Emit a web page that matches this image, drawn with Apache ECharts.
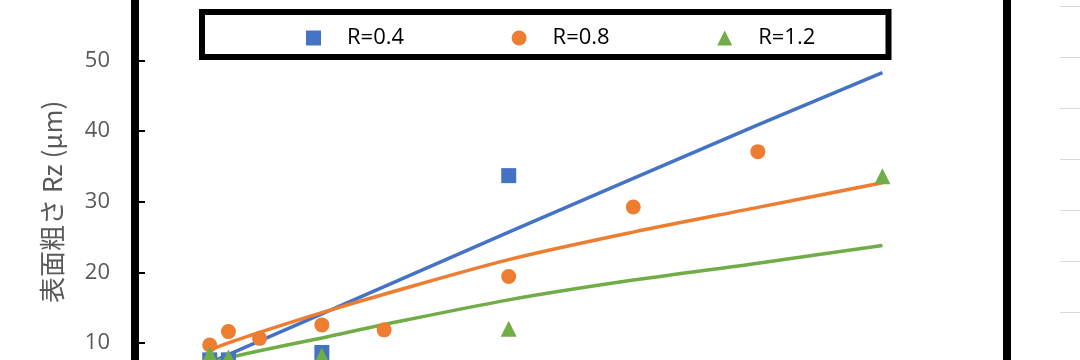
<!DOCTYPE html>
<html>
<head>
<meta charset="utf-8">
<script src="https://cdn.jsdelivr.net/npm/echarts@6/dist/echarts.min.js"></script>
<style>
html,body{margin:0;padding:0;background:#fff;}
#chart{width:1080px;height:360px;}
</style>
</head>
<body>
<div id="chart"></div>
<script>
// ---- data ----
const seriesNames = ['R=0.4', 'R=0.8', 'R=1.2'];
const blueX = [6, 7.5, 15, 30];
const blueY = [7.6, 7.6, 8.65, 33.7];
const orangeX = [6, 7.5, 10, 15, 20, 30, 40, 50];
const orangeY = [9.7, 11.6, 10.65, 12.55, 11.85, 19.4, 29.25, 37.1];
const greenX = [6, 7.5, 15, 30, 60];
const greenY = [8.4, 7.95, 8.2, 12.0, 33.6];
// trend lines
const blueTrendX = [6, 15, 30, 40, 50, 60];
const blueTrendY = [7.2, 14.1, 25.7, 33.3, 40.9, 48.3];
const orangeTrendX = [6, 7.5, 10, 15, 20, 30, 40, 50, 60];
const orangeTrendY = [9.0, 10.0, 11.5, 14.3, 16.9, 21.8, 25.7, 29.2, 32.7];
const greenTrendX = [6, 7.5, 10, 15, 20, 30, 40, 50, 60];
const greenTrendY = [7.2, 7.9, 8.9, 10.7, 12.6, 16.1, 18.9, 21.3, 23.8];
const yTicks = [0, 10, 20, 30, 40, 50, 60];

const zip = (xs, ys) => xs.map((x, i) => [x, ys[i]]);
const colors = ['#4472C4', '#ED7D31', '#70AD47'];

const chart = echarts.init(document.getElementById('chart'), null, {renderer: 'canvas'});
chart.setOption({
  animation: false,
  backgroundColor: '#fff',
  grid: [
    {left: 135, right: 73, top: -10, bottom: -53.5, show: true, borderColor: '#000', borderWidth: 8, backgroundColor: 'transparent', containLabel: false, outerBoundsMode: 'none'},
    {left: 1060, right: 0, top: 6, height: 306, show: false, containLabel: false, outerBoundsMode: 'none'}
  ],
  xAxis: [
    {type: 'value', gridIndex: 0, min: 0, max: 70, show: false},
    {type: 'value', gridIndex: 1, min: 0, max: 1, show: false}
  ],
  yAxis: [
    {
      type: 'value', gridIndex: 0,
      min: yTicks[0], max: yTicks[yTicks.length - 1], interval: 10,
      axisLine: {show: false},
      axisTick: {show: true, inside: true, length: 10, lineStyle: {color: '#000', width: 2}},
      splitLine: {show: false},
      axisLabel: {color: '#595959', fontFamily: 'Open Sans', fontSize: 22, margin: 25},
      name: '表面粗さ Rz (μm)',
      nameLocation: 'middle',
      nameGap: 70,
      nameTextStyle: {color: '#595959', fontFamily: 'Noto Sans CJK JP', fontSize: 26}
    },
    {
      type: 'value', gridIndex: 1, min: 0, max: 6, interval: 1,
      axisLine: {show: false}, axisTick: {show: false}, axisLabel: {show: false},
      splitLine: {show: true, lineStyle: {color: '#d9d9d9', width: 1}}
    }
  ],
  legend: {
    data: [
      {name: seriesNames[0], icon: 'rect'},
      {name: seriesNames[1], icon: 'circle'},
      {name: seriesNames[2], icon: 'triangle'}
    ],
    left: 306, top: 27, padding: 0,
    itemWidth: 15, itemHeight: 15, itemGap: 107.5,
    itemStyle: {opacity: 1},
    textStyle: {color: '#000', fontFamily: 'Open Sans', fontSize: 22, padding: [0, 0, 0, 21]}
  },
  graphic: [
    {type: 'rect', shape: {x: 202, y: 12, width: 686.5, height: 45}, style: {fill: 'none', stroke: '#000', lineWidth: 6}, z: 10}
  ],
  series: [
    {name: 'trend0.4', type: 'line', data: zip(blueTrendX, blueTrendY), showSymbol: false, symbol: 'none', lineStyle: {color: colors[0], width: 3.5}, z: 2},
    {name: 'trend0.8', type: 'line', data: zip(orangeTrendX, orangeTrendY), showSymbol: false, symbol: 'none', smooth: 0.3, lineStyle: {color: colors[1], width: 3.5}, z: 2},
    {name: 'trend1.2', type: 'line', data: zip(greenTrendX, greenTrendY), showSymbol: false, symbol: 'none', smooth: 0.3, lineStyle: {color: colors[2], width: 3.5}, z: 2},
    {name: seriesNames[0], type: 'scatter', data: zip(blueX, blueY), symbol: 'rect', symbolSize: 15, itemStyle: {color: colors[0], opacity: 1}, z: 3},
    {name: seriesNames[1], type: 'scatter', data: zip(orangeX, orangeY), symbol: 'circle', symbolSize: 15, itemStyle: {color: colors[1], opacity: 1}, z: 4},
    {name: seriesNames[2], type: 'scatter', data: zip(greenX, greenY), symbol: 'triangle', symbolSize: 16, itemStyle: {color: colors[2], opacity: 1}, z: 5},
    {name: 'aux', type: 'line', xAxisIndex: 1, yAxisIndex: 1, data: []}
  ]
});
</script>
</body>
</html>
